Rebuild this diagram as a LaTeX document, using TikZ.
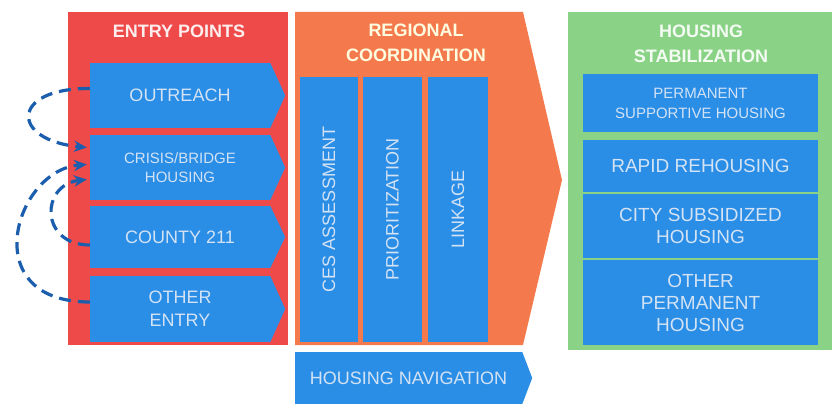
\documentclass[tikz,border=0pt]{standalone}
\usepackage{fontspec}
\setmainfont{Liberation Sans}
\usepackage{tikz}
\usetikzlibrary{calc,arrows.meta,positioning}
\definecolor{entryc}{HTML}{EE4A4A}
\definecolor{regc}{HTML}{F47A4E}
\definecolor{stabc}{HTML}{8AD386}
\definecolor{boxc}{HTML}{2A8DE6}
\definecolor{boxtx}{HTML}{D3E3F4}
\definecolor{linkc}{HTML}{1C5EAE}
\tikzset{
  hd/.style={font=\bfseries\fontsize{18}{25}\selectfont,align=center,inner sep=0pt},
  bx/.style={fill=boxc,text=boxtx,font=\fontsize{18}{22}\selectfont,align=center,inner sep=0pt},
  lk/.style={-{Stealth[length=4.5mm,width=4mm]},linkc,line width=3.2pt,dash pattern=on 12pt off 7pt}
}
\newcommand{\boxtip}[2]{\fill[boxc] (#1.north east) -- ($(#1.east)+(#2,0)$) -- (#1.south east) -- cycle;}

\begin{document}
\begin{tikzpicture}[x=1pt,y=-1pt]
\useasboundingbox (0,0) rectangle (835,404);
% panels
\fill[entryc] (68,12) rectangle (288,345);
\fill[regc] (295,12) -- (523,12) -- (562,180) -- (523,345) -- (295,345) -- cycle;
\fill[stabc] (568,12) rectangle (832,350);
\node[hd,text=white!90!entryc] (entryhd) at (179,31) {ENTRY POINTS};
\node[hd,text=yellow!12!white] (reghd) at (416,43) {REGIONAL\\COORDINATION};
\node[hd,text=white!90!stabc] (stabhd) at (701,44) {HOUSING\\STABILIZATION};
% entry points
\node[bx,minimum width=180pt,minimum height=65pt] (outreach) at (180,95.5) {OUTREACH};
\node[bx,minimum width=180pt,minimum height=65pt,font=\fontsize{15}{19}\selectfont] (crisis) at (180,167.5) {CRISIS/BRIDGE\\HOUSING};
\node[bx,minimum width=180pt,minimum height=62pt] (county) at (180,237) {COUNTY 211};
\node[bx,minimum width=180pt,minimum height=66pt,font=\fontsize{18}{23}\selectfont] (other) at (180,309) {OTHER\\ENTRY};
\foreach \n in {outreach,crisis,county,other} {\boxtip{\n}{15}}
% regional coordination
\node[bx,rotate=90,minimum width=265pt,minimum height=58pt] (ces) at (329,209.5) {CES ASSESSMENT};
\node[bx,rotate=90,minimum width=265pt,minimum height=59pt] (prior) at (392.5,209.5) {PRIORITIZATION};
\node[bx,rotate=90,minimum width=265pt,minimum height=60pt] (link) at (458,209.5) {LINKAGE};
\node[bx,minimum width=227pt,minimum height=52pt] (nav) at (408.5,378) {HOUSING NAVIGATION};
\boxtip{nav}{10}
% housing stabilization
\node[bx,minimum width=235pt,minimum height=58pt,font=\fontsize{15}{20}\selectfont] (psh) at (700.5,103) {PERMANENT\\SUPPORTIVE HOUSING};
\node[bx,minimum width=235pt,minimum height=52pt,font=\fontsize{19}{22}\selectfont] (rrh) at (700.5,166) {RAPID REHOUSING};
\node[bx,minimum width=235pt,minimum height=64pt,font=\fontsize{19}{22}\selectfont] (city) at (700.5,226) {CITY SUBSIDIZED\\HOUSING};
\node[bx,minimum width=235pt,minimum height=85pt,font=\fontsize{19}{22}\selectfont] (oph) at (700.5,302.5) {OTHER\\PERMANENT\\HOUSING};
% links back to crisis housing
\draw[lk] ($(outreach.west)+(0,-7)$) .. controls (10,88) and (10,140) .. ($(crisis.west)+(-3,-20)$);
\draw[lk] ($(county.west)+(0,8)$) .. controls (40,245) and (40,185) .. ($(crisis.west)+(-3,12)$);
\draw[lk] ($(other.west)+(0,-7)$) .. controls (-25,302) and (15,170) .. ($(crisis.west)+(-3,-3)$);
\end{tikzpicture}
\end{document}
